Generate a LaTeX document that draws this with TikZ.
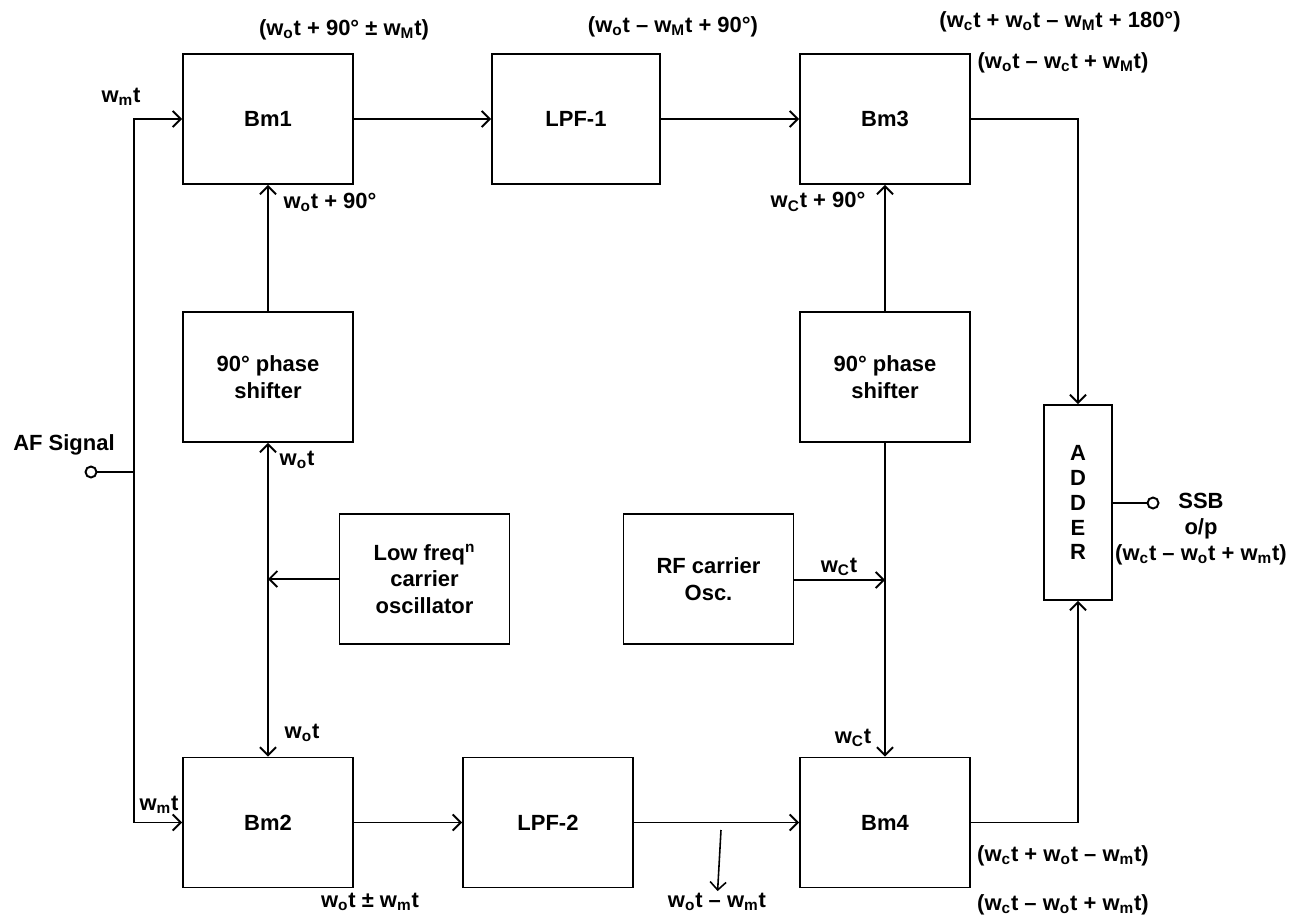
\documentclass[tikz,border=0pt]{standalone}
\usepackage{fontspec}
\setmainfont{Liberation Sans}
\usetikzlibrary{arrows.meta}
\newcommand{\wsub}[1]{w\textsubscript{#1}}
\tikzset{
  block/.style={draw,line width=1.1pt,minimum width=34mm,minimum height=26mm,align=center},
  sig/.style={inner sep=1pt,align=center},
  arrow/.style={-{Straight Barb[length=1.6mm,width=3.2mm]},line width=1.1pt},
  wire/.style={line width=1.1pt},
  port/.style={circle,draw,line width=1.1pt,fill=white,inner sep=0pt,minimum size=2.2mm}
}

\begin{document}
\begin{tikzpicture}[x=0.2mm,y=-0.2mm,font=\fontsize{12.5}{15}\selectfont\bfseries]
  \useasboundingbox (0,0) rectangle (1301,919);

  % upper branch
  \node[block] (bm1) at (268,119) {Bm1};
  \node[block,minimum width=33.6mm] (lpf1) at (576,119) {LPF-1};
  \node[block] (bm3) at (885,119) {Bm3};
  \node[block] (ps1) at (268,377) {90° phase\\shifter};
  \node[block] (ps2) at (885,377) {90° phase\\shifter};

  % oscillators
  \node[block] (lfo) at (424.5,579) {Low freq\textsuperscript{n}\\carrier\\oscillator};
  \node[block] (rfo) at (708.5,579) {RF carrier\\Osc.};

  % lower branch
  \node[block] (bm2) at (268,822.5) {Bm2};
  \node[block] (lpf2) at (548,822.5) {LPF-2};
  \node[block] (bm4) at (885,822.5) {Bm4};
  \node[block,minimum width=13.6mm,minimum height=39mm,font=\fontsize{12.5}{14.2}\selectfont\bfseries] (adder) at (1078,502.5) {A\\D\\D\\E\\R};

  \node[port] (afin) at (91,472) {};
  \node[port] (ssb) at (1153,503) {};
  \coordinate (split) at (134,472);
  \coordinate (lfsplit) at (268,579);
  \coordinate (rfsplit) at (885,580);
  \coordinate (tap) at (721,830);

  \draw[wire] (afin) -- (split);
  \draw[arrow] (split) |- (bm1.west);
  \draw[arrow] (split) |- (bm2.west);
  \draw[arrow] (bm1) -- (lpf1);
  \draw[arrow] (lpf1) -- (bm3);
  \draw[arrow] (ps1) -- (bm1);
  \draw[arrow] (lfo) -- (lfsplit);
  \draw[arrow] (lfsplit) -- (ps1.south);
  \draw[arrow] (lfsplit) -- (bm2.north);
  \draw[arrow] (rfo.east |- rfsplit) -- (rfsplit);
  \draw[wire] (ps2.south) -- (rfsplit);
  \draw[arrow] (rfsplit) -- (bm4.north);
  \draw[arrow] (ps2) -- (bm3);
  \draw[arrow] (bm3.east) -| (adder.north);
  \draw[arrow] (bm4.east) -| (adder.south);
  \draw[arrow] (bm2) -- (lpf2);
  \draw[arrow] (lpf2) -- (bm4);
  \draw[wire] (adder.east |- ssb) -- (ssb);

  % signal labels
  \node[sig] (lbm1) at (344,30) {(\wsub{o}t + 90° ± \wsub{M}t)};
  \node[sig] (llpf1) at (673,27) {(\wsub{o}t – \wsub{M}t + 90°)};
  \node[sig] (lbm3a) at (1060,22) {(\wsub{c}t + \wsub{o}t – \wsub{M}t + 180°)};
  \node[sig] (lbm3b) at (1063,63) {(\wsub{o}t – \wsub{c}t + \wsub{M}t)};
  \node[sig] (lin1) at (121,97) {\wsub{m}t};
  \node[sig] (lps1) at (330,202) {\wsub{o}t + 90°};
  \node[sig] (lps2) at (818,202) {\wsub{C}t + 90°};
  \node[sig] (afsig) at (64,445) {AF Signal};
  \node[sig] (llo1) at (297,460) {\wsub{o}t};
  \node[sig] (lrf) at (839,567) {\wsub{C}t};
  \node[sig] (lout) at (1201,529) {SSB\\o/p\\(\wsub{c}t – \wsub{o}t + \wsub{m}t)};
  \node[sig] (llo2) at (302,733) {\wsub{o}t};
  \node[sig] (lin2) at (159,805) {\wsub{m}t};
  \node[sig] (lrf2) at (853,738) {\wsub{C}t};
  \node[sig] (lbm2) at (370,902) {\wsub{o}t ± \wsub{m}t};
  \node[sig] (llpf2) at (717,902) {\wsub{o}t – \wsub{m}t};
  \node[sig] (lbm4a) at (1063,856) {(\wsub{c}t + \wsub{o}t – \wsub{m}t)};
  \node[sig] (lbm4b) at (1063,905) {(\wsub{c}t – \wsub{o}t + \wsub{m}t)};

  \draw[arrow,line width=0.9pt] (tap) -- (llpf2);
\end{tikzpicture}
\end{document}
